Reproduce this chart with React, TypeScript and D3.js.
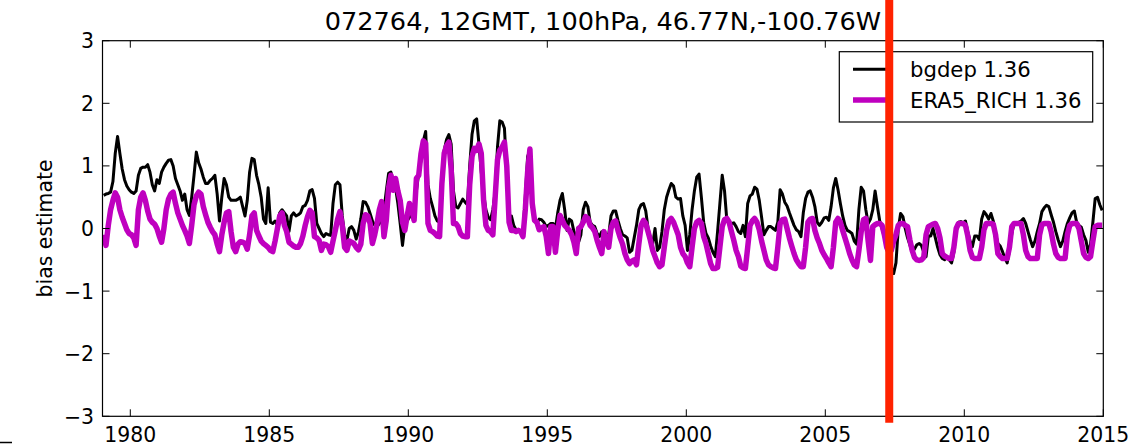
import React from "react";
import * as d3 from "d3";

const title = "072764, 12GMT, 100hPa, 46.77N,-100.76W";
const yLabel = "bias estimate";
const seriesNames = ["bgdep 1.36", "ERA5_RICH 1.36"];
const startYear = 1979;
const breakYear = 2007.3;
const xTicks = [1980, 1985, 1990, 1995, 2000, 2005, 2010, 2015];
const yTicks = [-3, -2, -1, 0, 1, 2, 3];

// monthly values, Jan 1979 .. Dec 2014
const bgdep: number[] = [
  0.53, 0.55, 0.56, 0.58, 0.75, 1.2, 1.47, 1.2, 0.95, 0.78, 0.68, 0.62, // 1979
  0.58, 0.56, 0.6, 0.85, 0.96, 0.98, 0.98, 1.02, 0.9, 0.7, 0.6, 0.78, // 1980
  0.72, 0.9, 0.98, 1.04, 1.09, 1.1, 1.0, 0.8, 0.7, 0.6, 0.45, 0.55, // 1981
  0.3, 0.21, 0.5, 0.85, 1.22, 1.05, 0.95, 0.82, 0.72, 0.72, 0.77, 0.8, // 1982
  0.85, 0.55, 0.12, 0.5, 0.8, 0.7, 0.5, 0.45, 0.45, 0.45, 0.47, 0.5, // 1983
  0.35, 0.2, 0.45, 0.9, 1.12, 1.1, 0.85, 0.7, 0.5, 0.15, 0.08, 0.65, // 1984
  0.1, 0.08, 0.12, 0.05, 0.25, 0.3, 0.25, 0.2, -0.05, 0.2, 0.25, 0.2, // 1985
  0.22, 0.25, 0.35, 0.37, 0.45, 0.6, 0.62, 0.48, 0.08, 0.0, -0.08, -0.13, // 1986
  -0.08, -0.1, -0.11, 0.4, 0.7, 0.74, 0.7, 0.2, -0.1, -0.19, 0.0, 0.03, // 1987
  -0.03, -0.17, -0.05, 0.15, 0.43, 0.42, 0.35, 0.24, 0.12, 0.05, 0.03, 0.08, // 1988
  0.15, 0.3, 0.6, 0.88, 0.9, 0.75, 0.65, 0.4, 0.08, -0.27, 0.05, 0.12, // 1989
  0.18, 0.25, 0.33, 0.6, 0.88, 1.1, 1.4, 1.55, 0.7, 0.48, 0.35, 0.2, // 1990
  0.12, 0.1, 0.6, 1.25, 1.42, 1.5, 1.35, 0.6, 0.35, 0.33, 0.4, 0.47, // 1991
  0.42, 0.38, 1.0, 1.5, 1.72, 1.75, 1.35, 0.9, 0.55, 0.3, 0.18, 0.14, // 1992
  0.3, 0.6, 1.3, 1.72, 1.7, 1.6, 0.9, 0.15, 0.2, 0.05, -0.02, -0.05, // 1993
  -0.04, -0.06, 0.5, 1.15, 1.25, 0.35, 0.12, 0.08, 0.15, 0.14, 0.1, 0.03, // 1994
  0.05, 0.08, 0.08, 0.0, 0.25, 0.45, 0.56, 0.3, -0.03, 0.15, 0.12, -0.05, // 1995
  -0.15, -0.22, -0.1, 0.3, 0.42, 0.35, 0.1, 0.05, 0.03, -0.08, -0.13, -0.05, // 1996
  -0.05, -0.1, -0.1, 0.2, 0.28, 0.28, 0.13, 0.0, -0.1, -0.12, -0.15, -0.38, // 1997
  -0.35, -0.15, 0.05, 0.3, 0.38, 0.4, 0.28, 0.0, -0.15, -0.25, 0.0, -0.35, // 1998
  -0.3, -0.05, 0.3, 0.5, 0.62, 0.72, 0.68, 0.5, 0.47, 0.48, 0.2, 0.05, // 1999
  -0.35, -0.1, 0.3, 0.6, 0.82, 0.87, 0.5, 0.1, -0.08, -0.15, -0.28, -0.38, // 2000
  -0.45, -0.05, 0.4, 0.85, 0.6, 0.13, 0.1, 0.08, 0.09, 0.03, -0.05, -0.08, // 2001
  0.05, -0.13, 0.4, 0.52, 0.55, 0.66, 0.63, 0.45, 0.18, -0.1, -0.03, 0.03, // 2002
  0.03, 0.0, -0.03, 0.1, 0.62, 0.55, 0.42, 0.36, 0.25, 0.15, 0.05, -0.02, // 2003
  -0.05, -0.13, 0.25, 0.48, 0.58, 0.6, 0.5, 0.35, 0.1, 0.05, 0.1, 0.17, // 2004
  0.18, 0.13, 0.35, 0.65, 0.8, 0.62, 0.4, 0.2, 0.05, -0.03, -0.05, -0.08, // 2005
  -0.2, -0.25, 0.3, 0.66, 0.6, 0.3, 0.08, 0.15, 0.3, 0.6, 0.35, 0.12, // 2006
  0.0, -0.13, -0.3, -0.45, -0.62, -0.72, -0.55, 0.0, 0.24, 0.19, 0.0, -0.15, // 2007
  -0.26, -0.38, -0.33, -0.26, -0.24, -0.27, -0.38, -0.45, -0.12, -0.12, 0.0, -0.15, // 2008
  -0.3, -0.42, -0.48, -0.5, -0.46, -0.5, -0.55, -0.38, -0.05, 0.1, 0.11, 0.09, // 2009
  0.12, -0.05, -0.2, -0.29, -0.12, -0.12, -0.18, 0.15, 0.27, 0.22, 0.15, 0.24, // 2010
  0.12, -0.08, -0.24, -0.28, -0.37, -0.47, -0.55, -0.35, -0.08, 0.08, 0.08, 0.1, // 2011
  0.12, 0.16, 0.08, -0.05, -0.18, -0.29, -0.2, -0.05, 0.08, 0.27, 0.33, 0.37, // 2012
  0.35, 0.22, 0.1, -0.05, -0.18, -0.29, -0.2, -0.05, 0.08, 0.17, 0.25, 0.28, // 2013
  0.1, 0.05, 0.02, -0.1, -0.19, -0.38, -0.25, 0.1, 0.48, 0.5, 0.38, 0.29, // 2014
];

const era5Rich: number[] = [
  -0.1, -0.27, 0.05, 0.3, 0.45, 0.57, 0.5, 0.3, 0.18, 0.08, -0.02, -0.08, // 1979
  -0.1, -0.15, -0.27, 0.3, 0.5, 0.57, 0.45, 0.28, 0.15, 0.1, 0.07, 0.0, // 1980
  -0.12, -0.22, 0.0, 0.3, 0.47, 0.55, 0.58, 0.4, 0.25, 0.15, 0.05, -0.03, // 1981
  -0.12, -0.24, 0.05, 0.38, 0.52, 0.58, 0.55, 0.35, 0.22, 0.1, 0.02, -0.05, // 1982
  -0.1, -0.25, -0.37, -0.1, 0.1, 0.25, 0.27, -0.05, -0.3, -0.37, -0.25, -0.21, // 1983
  -0.22, -0.24, -0.33, -0.1, 0.2, 0.25, -0.03, -0.12, -0.2, -0.24, -0.27, -0.3, // 1984
  -0.35, -0.37, -0.2, 0.0, 0.2, 0.25, 0.05, -0.05, -0.22, -0.25, -0.28, -0.3, // 1985
  -0.3, -0.24, -0.12, 0.05, 0.19, 0.29, 0.25, -0.13, -0.15, -0.19, -0.35, -0.25, // 1986
  -0.26, -0.29, -0.38, -0.2, -0.03, 0.15, 0.27, 0.05, -0.3, -0.35, -0.2, -0.22, // 1987
  -0.24, -0.3, -0.34, -0.25, 0.08, 0.22, 0.2, 0.08, -0.24, -0.1, 0.08, 0.3, // 1988
  0.43, -0.13, 0.13, 0.65, 0.85, 0.61, 0.8, 0.6, 0.45, 0.1, -0.03, 0.2, // 1989
  0.4, 0.3, 0.13, 0.8, 0.85, 1.2, 1.4, 1.36, 0.08, -0.03, -0.05, -0.08, // 1990
  -0.12, -0.13, 0.72, 1.2, 1.32, 1.38, 0.95, 0.08, 0.08, 0.03, -0.08, -0.12, // 1991
  -0.13, -0.13, 0.7, 1.15, 1.28, 1.25, 1.35, 1.2, 0.45, 0.05, -0.03, -0.05, // 1992
  -0.1, 0.5, 1.1, 1.25, 1.3, 1.38, 1.0, 0.1, -0.03, -0.03, -0.05, -0.03, // 1993
  -0.05, -0.13, 0.3, 0.9, 1.27, 0.4, 0.13, 0.1, -0.02, 0.01, 0.03, -0.12, // 1994
  -0.4, 0.03, 0.03, -0.38, -0.03, 0.21, 0.13, 0.05, 0.01, -0.03, -0.1, -0.22, // 1995
  -0.4, 0.0, 0.03, 0.1, 0.19, 0.16, 0.05, 0.01, -0.05, -0.19, -0.3, -0.4, // 1996
  -0.05, -0.2, -0.3, 0.0, 0.1, 0.12, -0.03, -0.15, -0.25, -0.4, -0.5, -0.56, // 1997
  -0.52, -0.5, -0.58, -0.25, 0.05, 0.13, 0.08, -0.05, -0.19, -0.35, -0.45, -0.55, // 1998
  -0.61, -0.58, -0.3, -0.03, 0.12, 0.16, 0.1, 0.0, -0.1, -0.3, -0.4, -0.45, // 1999
  -0.55, -0.61, -0.3, 0.0, 0.1, 0.13, 0.08, -0.13, -0.24, -0.4, -0.56, -0.64, // 2000
  -0.64, -0.62, -0.3, 0.03, 0.14, 0.16, 0.1, -0.05, -0.19, -0.35, -0.45, -0.6, // 2001
  -0.63, -0.64, -0.3, 0.05, 0.12, 0.16, 0.1, -0.02, -0.2, -0.35, -0.5, -0.58, // 2002
  -0.61, -0.63, -0.64, -0.3, 0.08, 0.14, 0.15, 0.0, -0.15, -0.28, -0.4, -0.5, // 2003
  -0.56, -0.61, -0.61, -0.3, 0.1, 0.15, 0.16, -0.03, -0.15, -0.24, -0.35, -0.42, // 2004
  -0.48, -0.55, -0.61, -0.3, 0.1, 0.16, 0.1, -0.03, -0.15, -0.27, -0.4, -0.5, // 2005
  -0.58, -0.61, -0.35, -0.05, 0.14, 0.16, -0.2, -0.51, 0.03, 0.06, 0.08, 0.08, // 2006
  0.05, -0.1, -0.3, -0.38, -0.35, -0.2, -0.1, 0.05, 0.08, 0.08, 0.05, 0.03, // 2007
  -0.18, -0.35, -0.46, -0.5, -0.51, -0.5, -0.46, -0.1, 0.03, 0.05, 0.07, 0.08, // 2008
  0.0, -0.15, -0.4, -0.44, -0.46, -0.48, -0.48, -0.3, 0.0, 0.08, 0.08, 0.08, // 2009
  0.05, -0.12, -0.35, -0.46, -0.48, -0.48, -0.48, -0.3, -0.02, 0.08, 0.08, 0.08, // 2010
  0.07, -0.1, -0.4, -0.45, -0.48, -0.48, -0.48, -0.3, 0.03, 0.08, 0.08, 0.08, // 2011
  0.08, -0.1, -0.35, -0.45, -0.48, -0.48, -0.48, -0.48, -0.1, 0.06, 0.08, 0.08, // 2012
  0.08, -0.05, -0.25, -0.4, -0.46, -0.48, -0.48, -0.48, -0.1, 0.05, 0.08, 0.08, // 2013
  0.08, 0.0, -0.2, -0.4, -0.46, -0.48, -0.45, -0.2, 0.03, 0.05, 0.05, 0.05, // 2014
];

const W = 1134;
const H = 444;
const left = 102.5;
const right = 1103.3;
const top = 40.7;
const bottom = 416.3;
const FONT = "'DejaVu Sans', sans-serif";
const BLACK = "#000000";
const MAGENTA = "#bf00bf";
const RED = "#ff2200";

const x = d3.scaleLinear().domain([1979, 2015]).range([left, right]);
const y = d3.scaleLinear().domain([-3, 3]).range([bottom, top]);

type Pt = { t: number; v: number };
const toPts = (vals: number[]): Pt[] =>
  vals.map((v, k) => ({ t: startYear + (k + 0.5) / 12, v }));

const line = d3
  .line<Pt>()
  .x((d) => x(d.t))
  .y((d) => y(d.v));

const fmt = (v: number) => (v < 0 ? "\u2212" + Math.abs(v) : String(v));

export default function App() {
  const tickLen = 7;
  return (
    <svg
      width={W}
      height={H}
      style={{ position: "absolute", left: 0, top: 0, background: "#fff" }}
      fontFamily={FONT}
    >
      <rect x={0} y={0} width={W} height={H} fill="#fff" />
      <defs>
        <clipPath id="plot">
          <rect x={left} y={top} width={right - left} height={bottom - top} />
        </clipPath>
      </defs>
      <text x={(left + right) / 2} y={30} textAnchor="middle" fontSize={25.6}>
        {title}
      </text>
      <g clipPath="url(#plot)">
        <path d={line(toPts(bgdep)) || ""} fill="none" stroke={BLACK} strokeWidth={3} strokeLinejoin="round" />
        <path d={line(toPts(era5Rich)) || ""} fill="none" stroke={MAGENTA} strokeWidth={5.5} strokeLinejoin="round" />
      </g>
      {/* frame */}
      <rect x={left} y={top} width={right - left} height={bottom - top} fill="none" stroke="#000" strokeWidth={1.2} />
      {/* x ticks */}
      {xTicks.map((t) => (
        <g key={"xt" + t}>
          <line x1={x(t)} x2={x(t)} y1={bottom} y2={bottom - tickLen} stroke="#000" strokeWidth={1} />
          <line x1={x(t)} x2={x(t)} y1={top} y2={top + tickLen} stroke="#000" strokeWidth={1} />
          <text x={x(t)} y={441.5} textAnchor="middle" fontSize={20.4}>
            {t}
          </text>
        </g>
      ))}
      {/* y ticks */}
      {yTicks.map((v) => (
        <g key={"yt" + v}>
          <line x1={left} x2={left + tickLen} y1={y(v)} y2={y(v)} stroke="#000" strokeWidth={1} />
          <line x1={right} x2={right - tickLen} y1={y(v)} y2={y(v)} stroke="#000" strokeWidth={1} />
          <text x={94} y={y(v) + 7.4} textAnchor="end" fontSize={20.4}>
            {fmt(v)}
          </text>
        </g>
      ))}
      <text
        transform={`translate(52, ${(top + bottom) / 2}) rotate(-90)`}
        textAnchor="middle"
        fontSize={20.4}
      >
        {yLabel}
      </text>
      {/* legend */}
      <rect x={839.3} y={51.7} width={253.4} height={70.3} fill="#fff" stroke="#000" strokeWidth={1.2} />
      <line x1={853} x2={886} y1={69.3} y2={69.3} stroke={BLACK} strokeWidth={3} />
      <line x1={853} x2={886} y1={100} y2={100} stroke={MAGENTA} strokeWidth={5.5} />
      <text x={910} y={76.5} fontSize={21.2}>
        {seriesNames[0]}
      </text>
      <text x={910} y={108.3} fontSize={21.2}>
        {seriesNames[1]}
      </text>
      {/* break line */}
      <line x1={x(breakYear)} x2={x(breakYear)} y1={0} y2={422.7} stroke={RED} strokeWidth={8} />
      {/* stray mark at lower-left */}
      <line x1={0} x2={12} y1={442.5} y2={442.5} stroke="#000" strokeWidth={1.5} />
    </svg>
  );
}
